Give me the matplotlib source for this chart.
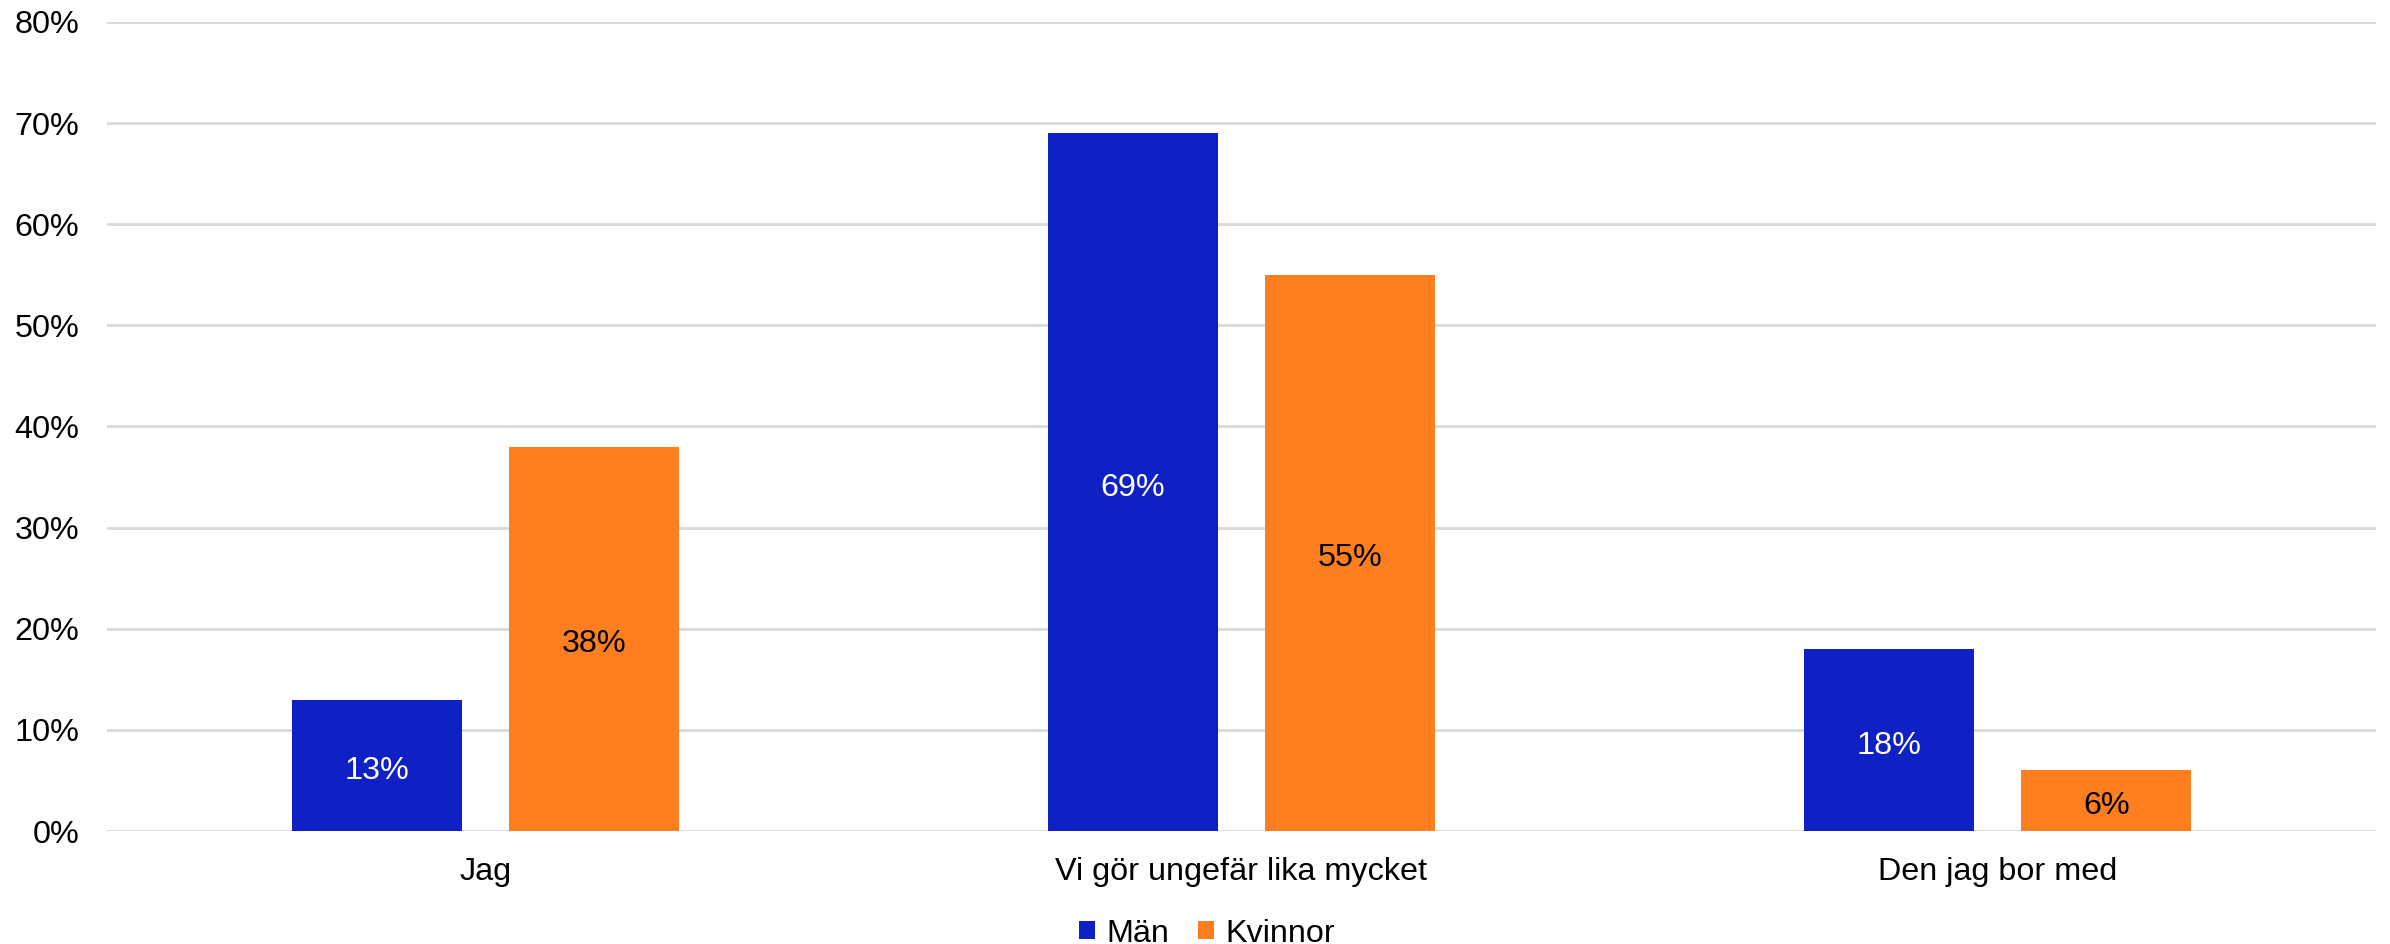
import numpy as np
import matplotlib
matplotlib.use("Agg")
import matplotlib.pyplot as plt

plt.rcParams["font.family"] = ["Liberation Sans", "DejaVu Sans"]

categories = ["Jag", "Vi gör ungefär lika mycket", "Den jag bor med"]
series = ["Män", "Kvinnor"]
man = [13, 69, 18]
kvinnor = [38, 55, 6]
yticks = [0, 10, 20, 30, 40, 50, 60, 70, 80]

blue = "#0F21C4"
orange = "#FF7F20"
fs = 23.3

fig = plt.figure(figsize=(23.9, 9.44), dpi=100)
ax = fig.add_axes([0.0448, 0.1197, 0.9493, 0.857])

x = np.arange(len(categories))
w = 0.225
off = 0.1435
b1 = ax.bar(x - off, man, w, color=blue, label=series[0], zorder=3)
b2 = ax.bar(x + off, kvinnor, w, color=orange, label=series[1], zorder=3)

# value labels centred in the bars
for bars, vals, tc in [(b1, man, "white"), (b2, kvinnor, "black")]:
    for r, v in zip(bars, vals):
        ax.annotate(f"{v}%", (r.get_x() + r.get_width() / 2, v / 2), xytext=(0, -4),
                    textcoords="offset points", ha="center", va="center",
                    color=tc, fontsize=fs, zorder=4)

ax.set_xlim(-0.5, len(categories) - 0.5)
ax.set_ylim(0, 80)
ax.set_yticks(yticks)
ax.set_yticklabels([f"{t}%" for t in yticks])
ax.set_xticks(x)
ax.set_xticklabels(categories)
ax.tick_params(axis="y", length=0, pad=20, labelsize=fs)
ax.tick_params(axis="x", length=0, pad=19, labelsize=fs)
ax.grid(axis="y", color="#D9D9D9", linewidth=2, zorder=0)
for s in ax.spines.values():
    s.set_visible(False)

fig.legend(loc="center", bbox_to_anchor=(0.505, 0.011), ncol=2, frameon=False, fontsize=fs,
           handlelength=0.5, handleheight=0.5, handletextpad=0.33, columnspacing=0.9)

fig.savefig("out.png", dpi=100)
